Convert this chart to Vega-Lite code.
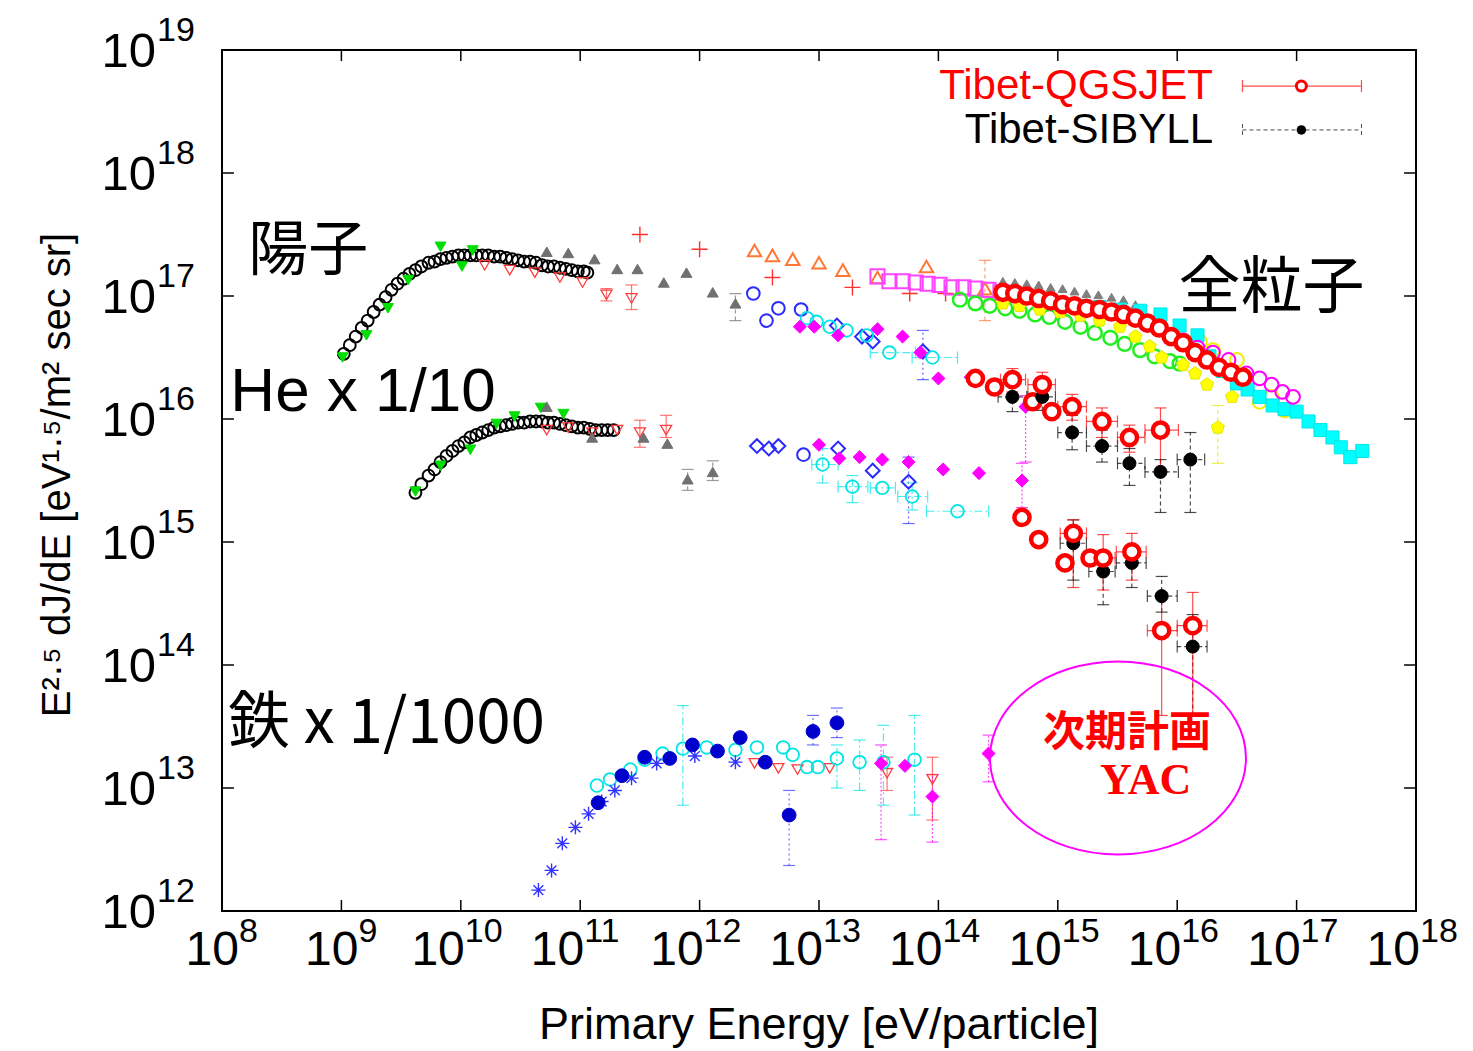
{
  "$schema": "https://vega.github.io/schema/vega-lite/v6.json",
  "width": 1194,
  "height": 861,
  "autosize": {"type": "none"},
  "padding": {"left": 222, "top": 50, "right": 57, "bottom": 140},
  "background": "white",
  "config": {
    "view": {"stroke": "#000000", "strokeWidth": 2},
    "axis": {"disable": true},
    "legend": {"disable": true}
  },
  "data": {"values": [{}]},
  "datasets": {
    "xt": [{"e":8},{"e":9},{"e":10},{"e":11},{"e":12},{"e":13},{"e":14},{"e":15},{"e":16},{"e":17},{"e":18}],
    "yt": [{"f":12},{"f":13},{"f":14},{"f":15},{"f":16},{"f":17},{"f":18},{"f":19}],
    "pts": [
      {"s":"blk_o","e":9.02,"f":16.53},{"s":"blk_o","e":9.07,"f":16.60},{"s":"blk_o","e":9.12,"f":16.67},{"s":"blk_o","e":9.17,"f":16.74},{"s":"blk_o","e":9.22,"f":16.80},{"s":"blk_o","e":9.27,"f":16.87},{"s":"blk_o","e":9.32,"f":16.93},{"s":"blk_o","e":9.37,"f":16.99},{"s":"blk_o","e":9.42,"f":17.05},{"s":"blk_o","e":9.47,"f":17.10},{"s":"blk_o","e":9.52,"f":17.14},{"s":"blk_o","e":9.57,"f":17.18},{"s":"blk_o","e":9.62,"f":17.21},{"s":"blk_o","e":9.67,"f":17.24},{"s":"blk_o","e":9.73,"f":17.27},{"s":"blk_o","e":9.78,"f":17.28},{"s":"blk_o","e":9.83,"f":17.30},{"s":"blk_o","e":9.88,"f":17.31},{"s":"blk_o","e":9.93,"f":17.32},{"s":"blk_o","e":9.98,"f":17.33},{"s":"blk_o","e":10.03,"f":17.33},{"s":"blk_o","e":10.08,"f":17.33},{"s":"blk_o","e":10.13,"f":17.33},{"s":"blk_o","e":10.18,"f":17.33},{"s":"blk_o","e":10.23,"f":17.33},{"s":"blk_o","e":10.28,"f":17.32},{"s":"blk_o","e":10.33,"f":17.32},{"s":"blk_o","e":10.38,"f":17.31},{"s":"blk_o","e":10.43,"f":17.30},{"s":"blk_o","e":10.48,"f":17.29},{"s":"blk_o","e":10.53,"f":17.28},{"s":"blk_o","e":10.58,"f":17.28},{"s":"blk_o","e":10.63,"f":17.27},{"s":"blk_o","e":10.68,"f":17.25},{"s":"blk_o","e":10.73,"f":17.24},{"s":"blk_o","e":10.78,"f":17.24},{"s":"blk_o","e":10.83,"f":17.23},{"s":"blk_o","e":10.88,"f":17.22},{"s":"blk_o","e":10.93,"f":17.21},{"s":"blk_o","e":10.98,"f":17.20},{"s":"blk_o","e":11.03,"f":17.20},{"s":"blk_o","e":11.06,"f":17.19},
      {"s":"blk_o","e":9.62,"f":15.40},{"s":"blk_o","e":9.67,"f":15.47},{"s":"blk_o","e":9.73,"f":15.54},{"s":"blk_o","e":9.78,"f":15.59},{"s":"blk_o","e":9.83,"f":15.65},{"s":"blk_o","e":9.88,"f":15.70},{"s":"blk_o","e":9.93,"f":15.74},{"s":"blk_o","e":9.98,"f":15.78},{"s":"blk_o","e":10.03,"f":15.81},{"s":"blk_o","e":10.08,"f":15.85},{"s":"blk_o","e":10.13,"f":15.87},{"s":"blk_o","e":10.18,"f":15.89},{"s":"blk_o","e":10.23,"f":15.91},{"s":"blk_o","e":10.28,"f":15.93},{"s":"blk_o","e":10.33,"f":15.94},{"s":"blk_o","e":10.38,"f":15.95},{"s":"blk_o","e":10.43,"f":15.96},{"s":"blk_o","e":10.48,"f":15.97},{"s":"blk_o","e":10.53,"f":15.97},{"s":"blk_o","e":10.58,"f":15.98},{"s":"blk_o","e":10.63,"f":15.98},{"s":"blk_o","e":10.68,"f":15.98},{"s":"blk_o","e":10.73,"f":15.97},{"s":"blk_o","e":10.78,"f":15.97},{"s":"blk_o","e":10.83,"f":15.96},{"s":"blk_o","e":10.88,"f":15.95},{"s":"blk_o","e":10.93,"f":15.94},{"s":"blk_o","e":10.98,"f":15.93},{"s":"blk_o","e":11.03,"f":15.93},{"s":"blk_o","e":11.08,"f":15.92},{"s":"blk_o","e":11.13,"f":15.91},{"s":"blk_o","e":11.18,"f":15.91},{"s":"blk_o","e":11.23,"f":15.91},{"s":"blk_o","e":11.28,"f":15.91},
      {"s":"grn_tri","e":9.01,"f":16.50},{"s":"grn_tri","e":9.21,"f":16.68},{"s":"grn_tri","e":9.39,"f":16.90},{"s":"grn_tri","e":9.56,"f":17.13},{"s":"grn_tri","e":9.83,"f":17.40},{"s":"grn_tri","e":10.01,"f":17.24},{"s":"grn_tri","e":10.10,"f":17.37},
      {"s":"grn_tri","e":9.62,"f":15.41},{"s":"grn_tri","e":9.83,"f":15.62},{"s":"grn_tri","e":10.08,"f":15.75},{"s":"grn_tri","e":10.30,"f":15.96},{"s":"grn_tri","e":10.45,"f":16.02},{"s":"grn_tri","e":10.67,"f":16.09},{"s":"grn_tri","e":10.86,"f":16.04},
      {"s":"red_tri","e":10.20,"f":17.25},{"s":"red_tri","e":10.41,"f":17.21},{"s":"red_tri","e":10.62,"f":17.19},{"s":"red_tri","e":10.83,"f":17.15},{"s":"red_tri","e":11.02,"f":17.11},{"s":"red_tri","e":11.22,"f":17.01,"ylo":16.96,"yhi":17.06},{"s":"red_tri","e":11.43,"f":16.98,"ylo":16.89,"yhi":17.09},
      {"s":"red_tri","e":10.72,"f":15.91},{"s":"red_tri","e":10.90,"f":15.93},{"s":"red_tri","e":11.10,"f":15.89},{"s":"red_tri","e":11.31,"f":15.91},{"s":"red_tri","e":11.50,"f":15.89,"ylo":15.77,"yhi":15.99},{"s":"red_tri","e":11.72,"f":15.91,"ylo":15.85,"yhi":16.03},
      {"s":"red_tri","e":12.46,"f":13.20},{"s":"red_tri","e":12.66,"f":13.16},{"s":"red_tri","e":12.82,"f":13.15},{"s":"red_tri","e":13.09,"f":13.16},{"s":"red_tri","e":13.57,"f":13.12,"ylo":12.98,"yhi":13.25},{"s":"red_tri","e":13.95,"f":13.07,"ylo":12.74,"yhi":13.25},
      {"s":"gry_tri","e":10.72,"f":17.36},{"s":"gry_tri","e":10.90,"f":17.35},{"s":"gry_tri","e":11.12,"f":17.30},{"s":"gry_tri","e":11.31,"f":17.22},{"s":"gry_tri","e":11.48,"f":17.22},{"s":"gry_tri","e":11.70,"f":17.11},{"s":"gry_tri","e":11.89,"f":17.19},{"s":"gry_tri","e":12.11,"f":17.03},{"s":"gry_tri","e":12.30,"f":16.94,"ylo":16.80,"yhi":17.02},
      {"s":"gry_tri","e":10.72,"f":16.10},{"s":"gry_tri","e":11.10,"f":15.85},{"s":"gry_tri","e":11.53,"f":15.85},{"s":"gry_tri","e":11.73,"f":15.80},{"s":"gry_tri","e":11.90,"f":15.51,"ylo":15.42,"yhi":15.59},{"s":"gry_tri","e":12.11,"f":15.57,"ylo":15.50,"yhi":15.66},
      {"s":"red_plus","e":11.50,"f":17.50},{"s":"red_plus","e":12.00,"f":17.38},{"s":"red_plus","e":12.61,"f":17.15},{"s":"red_plus","e":13.28,"f":17.07},{"s":"red_plus","e":13.76,"f":17.02},{"s":"red_plus","e":14.06,"f":17.02},
      {"s":"org_tri","e":12.46,"f":17.37},{"s":"org_tri","e":12.61,"f":17.33},{"s":"org_tri","e":12.78,"f":17.30},{"s":"org_tri","e":13.00,"f":17.27},{"s":"org_tri","e":13.20,"f":17.21},{"s":"org_tri","e":13.49,"f":17.15},{"s":"org_tri","e":13.90,"f":17.24},{"s":"org_tri","e":14.39,"f":17.06,"ylo":16.80,"yhi":17.29},
      {"s":"mag_sq","e":13.49,"f":17.16},{"s":"mag_sq","e":13.59,"f":17.12},{"s":"mag_sq","e":13.70,"f":17.12},{"s":"mag_sq","e":13.81,"f":17.11},{"s":"mag_sq","e":13.91,"f":17.10},{"s":"mag_sq","e":14.01,"f":17.09},{"s":"mag_sq","e":14.11,"f":17.07},{"s":"mag_sq","e":14.21,"f":17.07},{"s":"mag_sq","e":14.31,"f":17.06},{"s":"mag_sq","e":14.42,"f":17.05},{"s":"mag_sq","e":14.52,"f":17.03},
      {"s":"gry_sm","e":14.54,"f":17.12},{"s":"gry_sm","e":14.64,"f":17.11},{"s":"gry_sm","e":14.74,"f":17.10},{"s":"gry_sm","e":14.84,"f":17.09},{"s":"gry_sm","e":14.94,"f":17.07},{"s":"gry_sm","e":15.04,"f":17.06},{"s":"gry_sm","e":15.14,"f":17.04},{"s":"gry_sm","e":15.24,"f":17.02},{"s":"gry_sm","e":15.34,"f":17.01},{"s":"gry_sm","e":15.45,"f":16.99},{"s":"gry_sm","e":15.55,"f":16.97},{"s":"gry_sm","e":15.65,"f":16.93},
      {"s":"lime_o","e":14.18,"f":16.97},{"s":"lime_o","e":14.31,"f":16.94},{"s":"lime_o","e":14.43,"f":16.92},{"s":"lime_o","e":14.56,"f":16.90},{"s":"lime_o","e":14.68,"f":16.88},{"s":"lime_o","e":14.81,"f":16.85},{"s":"lime_o","e":14.93,"f":16.83},{"s":"lime_o","e":15.06,"f":16.79},{"s":"lime_o","e":15.19,"f":16.75},{"s":"lime_o","e":15.31,"f":16.70},{"s":"lime_o","e":15.44,"f":16.66},{"s":"lime_o","e":15.56,"f":16.61},{"s":"lime_o","e":15.69,"f":16.56},{"s":"lime_o","e":15.81,"f":16.51},{"s":"lime_o","e":15.94,"f":16.47},{"s":"lime_o","e":16.02,"f":16.45},
      {"s":"yel_p","e":14.54,"f":16.94},{"s":"yel_p","e":14.68,"f":16.92},{"s":"yel_p","e":14.85,"f":16.89},{"s":"yel_p","e":15.02,"f":16.87},{"s":"yel_p","e":15.19,"f":16.84},{"s":"yel_p","e":15.35,"f":16.80},{"s":"yel_p","e":15.52,"f":16.75},{"s":"yel_p","e":15.65,"f":16.67},{"s":"yel_p","e":15.77,"f":16.59},{"s":"yel_p","e":15.87,"f":16.50},{"s":"yel_p","e":16.05,"f":16.44},{"s":"yel_p","e":16.15,"f":16.37},{"s":"yel_p","e":16.25,"f":16.28},{"s":"yel_p","e":16.46,"f":16.18},{"s":"yel_p","e":16.34,"f":15.93,"ylo":15.64,"yhi":16.11},
      {"s":"yel_o","e":16.19,"f":16.63},{"s":"yel_o","e":16.30,"f":16.56},{"s":"yel_o","e":16.50,"f":16.48},{"s":"yel_o","e":16.69,"f":16.14},{"s":"yel_o","e":16.79,"f":16.18},{"s":"yel_o","e":16.90,"f":16.07},
      {"s":"cyan_sq","e":15.02,"f":16.94},{"s":"cyan_sq","e":15.19,"f":16.92},{"s":"cyan_sq","e":15.35,"f":16.91},{"s":"cyan_sq","e":15.52,"f":16.89},{"s":"cyan_sq","e":15.69,"f":16.88},{"s":"cyan_sq","e":15.86,"f":16.85},{"s":"cyan_sq","e":16.02,"f":16.76},{"s":"cyan_sq","e":16.17,"f":16.68},{"s":"cyan_sq","e":16.27,"f":16.51},{"s":"cyan_sq","e":16.38,"f":16.39},{"s":"cyan_sq","e":16.50,"f":16.29},{"s":"cyan_sq","e":16.59,"f":16.24},{"s":"cyan_sq","e":16.69,"f":16.18},{"s":"cyan_sq","e":16.80,"f":16.11},{"s":"cyan_sq","e":16.90,"f":16.08},{"s":"cyan_sq","e":17.00,"f":16.06},{"s":"cyan_sq","e":17.10,"f":15.98},{"s":"cyan_sq","e":17.20,"f":15.91},{"s":"cyan_sq","e":17.30,"f":15.85},{"s":"cyan_sq","e":17.37,"f":15.77},{"s":"cyan_sq","e":17.45,"f":15.69},{"s":"cyan_sq","e":17.55,"f":15.74},
      {"s":"mag_o","e":16.05,"f":16.64},{"s":"mag_o","e":16.17,"f":16.58},{"s":"mag_o","e":16.30,"f":16.54},{"s":"mag_o","e":16.43,"f":16.48},{"s":"mag_o","e":16.58,"f":16.37},{"s":"mag_o","e":16.69,"f":16.33},{"s":"mag_o","e":16.79,"f":16.28},{"s":"mag_o","e":16.88,"f":16.22},{"s":"mag_o","e":16.97,"f":16.18},
      {"s":"blue_o","e":12.45,"f":17.02},{"s":"blue_o","e":12.56,"f":16.80},{"s":"blue_o","e":12.66,"f":16.90},{"s":"blue_o","e":12.85,"f":16.89},{"s":"blue_o","e":12.87,"f":15.71},
      {"s":"blue_d","e":13.15,"f":16.76},{"s":"blue_d","e":13.36,"f":16.67},{"s":"blue_d","e":13.45,"f":16.63},{"s":"blue_d","e":13.87,"f":16.55,"ylo":16.32,"yhi":16.72},
      {"s":"blue_d","e":12.48,"f":15.78},{"s":"blue_d","e":12.58,"f":15.76},{"s":"blue_d","e":12.66,"f":15.78},{"s":"blue_d","e":13.16,"f":15.76},{"s":"blue_d","e":13.45,"f":15.58},{"s":"blue_d","e":13.75,"f":15.49,"ylo":15.15,"yhi":15.69},
      {"s":"cyan_o","e":12.90,"f":16.82},{"s":"cyan_o","e":12.98,"f":16.79},{"s":"cyan_o","e":13.09,"f":16.75},{"s":"cyan_o","e":13.23,"f":16.72},{"s":"cyan_o","e":13.40,"f":16.68},{"s":"cyan_o","e":13.59,"f":16.54,"xlo":13.43,"xhi":13.81},{"s":"cyan_o","e":13.95,"f":16.50,"xlo":13.78,"xhi":14.16},
      {"s":"cyan_o","e":13.03,"f":15.63,"ylo":15.48,"yhi":15.76,"xlo":12.94,"xhi":13.16},{"s":"cyan_o","e":13.28,"f":15.45,"ylo":15.32,"yhi":15.54,"xlo":13.16,"xhi":13.41},{"s":"cyan_o","e":13.53,"f":15.44,"xlo":13.43,"xhi":13.64},{"s":"cyan_o","e":13.78,"f":15.37,"ylo":15.26,"yhi":15.48,"xlo":13.66,"xhi":13.91},{"s":"cyan_o","e":14.16,"f":15.25,"xlo":13.90,"xhi":14.42},
      {"s":"cyan_o","e":11.14,"f":13.02},{"s":"cyan_o","e":11.25,"f":13.07},{"s":"cyan_o","e":11.42,"f":13.15},{"s":"cyan_o","e":11.54,"f":13.23},{"s":"cyan_o","e":11.69,"f":13.28},{"s":"cyan_o","e":11.86,"f":13.32,"ylo":12.86,"yhi":13.67},{"s":"cyan_o","e":12.06,"f":13.33},{"s":"cyan_o","e":12.30,"f":13.31},{"s":"cyan_o","e":12.48,"f":13.33},{"s":"cyan_o","e":12.70,"f":13.33},{"s":"cyan_o","e":12.78,"f":13.27},{"s":"cyan_o","e":12.90,"f":13.17},{"s":"cyan_o","e":12.99,"f":13.17},{"s":"cyan_o","e":13.15,"f":13.24,"ylo":13.00,"yhi":13.35},{"s":"cyan_o","e":13.34,"f":13.21,"ylo":12.98,"yhi":13.39},{"s":"cyan_o","e":13.54,"f":13.21,"ylo":12.86,"yhi":13.51},{"s":"cyan_o","e":13.80,"f":13.23,"ylo":12.78,"yhi":13.59},
      {"s":"mag_d","e":12.84,"f":16.75},{"s":"mag_d","e":12.96,"f":16.75},{"s":"mag_d","e":13.16,"f":16.68},{"s":"mag_d","e":13.49,"f":16.73},{"s":"mag_d","e":13.70,"f":16.67},{"s":"mag_d","e":13.85,"f":16.54},{"s":"mag_d","e":14.00,"f":16.33},{"s":"mag_d","e":14.27,"f":16.34},{"s":"mag_d","e":14.73,"f":16.10,"ylo":15.65,"yhi":16.19},
      {"s":"mag_d","e":13.00,"f":15.79},{"s":"mag_d","e":13.17,"f":15.68},{"s":"mag_d","e":13.34,"f":15.69},{"s":"mag_d","e":13.53,"f":15.67},{"s":"mag_d","e":13.75,"f":15.65},{"s":"mag_d","e":14.04,"f":15.59},{"s":"mag_d","e":14.34,"f":15.56},{"s":"mag_d","e":14.70,"f":15.50,"ylo":15.28,"yhi":15.64},
      {"s":"mag_d","e":13.52,"f":13.20,"ylo":12.58,"yhi":13.35},{"s":"mag_d","e":13.72,"f":13.18},{"s":"mag_d","e":13.95,"f":12.93,"ylo":12.56,"yhi":13.11},{"s":"mag_d","e":14.42,"f":13.28,"ylo":13.05,"yhi":13.43},
      {"s":"blue_star","e":10.65,"f":12.17},{"s":"blue_star","e":10.76,"f":12.33},{"s":"blue_star","e":10.85,"f":12.55},{"s":"blue_star","e":10.96,"f":12.68},{"s":"blue_star","e":11.07,"f":12.79},{"s":"blue_star","e":11.18,"f":12.89},{"s":"blue_star","e":11.29,"f":12.98},{"s":"blue_star","e":11.43,"f":13.08},{"s":"blue_star","e":11.64,"f":13.20},{"s":"blue_star","e":11.96,"f":13.26},{"s":"blue_star","e":12.30,"f":13.21},
      {"s":"blue_f","e":11.15,"f":12.88},{"s":"blue_f","e":11.35,"f":13.10},{"s":"blue_f","e":11.54,"f":13.25},{"s":"blue_f","e":11.75,"f":13.24},{"s":"blue_f","e":11.94,"f":13.35},{"s":"blue_f","e":12.15,"f":13.30},{"s":"blue_f","e":12.34,"f":13.41},{"s":"blue_f","e":12.55,"f":13.21},{"s":"blue_f","e":12.75,"f":12.78,"ylo":12.37,"yhi":12.98},{"s":"blue_f","e":12.95,"f":13.46,"ylo":13.35,"yhi":13.59},{"s":"blue_f","e":13.15,"f":13.53,"ylo":13.41,"yhi":13.65},
      {"s":"qgs","e":14.54,"f":17.03},{"s":"qgs","e":14.64,"f":17.02},{"s":"qgs","e":14.74,"f":17.00},{"s":"qgs","e":14.84,"f":16.98},{"s":"qgs","e":14.94,"f":16.96},{"s":"qgs","e":15.04,"f":16.93},{"s":"qgs","e":15.14,"f":16.92},{"s":"qgs","e":15.24,"f":16.90},{"s":"qgs","e":15.35,"f":16.89},{"s":"qgs","e":15.45,"f":16.87},{"s":"qgs","e":15.55,"f":16.85},{"s":"qgs","e":15.65,"f":16.82},{"s":"qgs","e":15.75,"f":16.78},{"s":"qgs","e":15.85,"f":16.74},{"s":"qgs","e":15.95,"f":16.67},{"s":"qgs","e":16.05,"f":16.62},{"s":"qgs","e":16.15,"f":16.54},{"s":"qgs","e":16.25,"f":16.48},{"s":"qgs","e":16.35,"f":16.42},{"s":"qgs","e":16.45,"f":16.38},{"s":"qgs","e":16.55,"f":16.34},
      {"s":"qgs","e":14.31,"f":16.33},{"s":"qgs","e":14.47,"f":16.26},{"s":"qgs","e":14.79,"f":16.14},{"s":"qgs","e":14.95,"f":16.06},
      {"s":"qgs","e":14.70,"f":15.20},{"s":"qgs","e":14.84,"f":15.02},{"s":"qgs","e":15.06,"f":14.83},{"s":"qgs","e":15.27,"f":14.87},
      {"s":"sib","e":14.62,"f":16.18,"ylo":16.06,"yhi":16.28,"xlo":14.50,"xhi":14.74},{"s":"sib","e":14.87,"f":16.18,"ylo":16.07,"yhi":16.28,"xlo":14.75,"xhi":14.98},{"s":"sib","e":15.12,"f":15.89,"ylo":15.75,"yhi":16.03,"xlo":15.00,"xhi":15.24},{"s":"sib","e":15.37,"f":15.78,"ylo":15.65,"yhi":15.91,"xlo":15.24,"xhi":15.50},{"s":"sib","e":15.60,"f":15.64,"ylo":15.46,"yhi":15.76,"xlo":15.50,"xhi":15.73},{"s":"sib","e":15.86,"f":15.57,"ylo":15.24,"yhi":15.67,"xlo":15.73,"xhi":16.01},{"s":"sib","e":16.11,"f":15.67,"ylo":15.24,"yhi":15.89,"xlo":16.00,"xhi":16.23},
      {"s":"sib","e":15.13,"f":14.99,"ylo":14.69,"yhi":15.18,"xlo":15.02,"xhi":15.24},{"s":"sib","e":15.38,"f":14.76,"ylo":14.49,"yhi":14.85,"xlo":15.26,"xhi":15.48},{"s":"sib","e":15.62,"f":14.83,"ylo":14.63,"yhi":14.88,"xlo":15.49,"xhi":15.74},{"s":"sib","e":15.87,"f":14.56,"ylo":14.43,"yhi":14.72,"xlo":15.75,"xhi":16.00},{"s":"sib","e":16.13,"f":14.15,"ylo":13.59,"yhi":14.41,"xlo":16.00,"xhi":16.25},
      {"s":"qgs","e":14.62,"f":16.32,"ylo":16.22,"yhi":16.41,"xlo":14.52,"xhi":14.73},{"s":"qgs","e":14.87,"f":16.28,"ylo":16.17,"yhi":16.38,"xlo":14.75,"xhi":14.98},{"s":"qgs","e":15.12,"f":16.10,"ylo":15.99,"yhi":16.20,"xlo":15.00,"xhi":15.24},{"s":"qgs","e":15.37,"f":15.98,"ylo":15.85,"yhi":16.09,"xlo":15.24,"xhi":15.50},{"s":"qgs","e":15.60,"f":15.85,"ylo":15.73,"yhi":15.95,"xlo":15.50,"xhi":15.73},{"s":"qgs","e":15.86,"f":15.91,"ylo":15.57,"yhi":16.09,"xlo":15.73,"xhi":16.01},
      {"s":"qgs","e":15.13,"f":15.07,"ylo":14.63,"yhi":15.18,"xlo":15.02,"xhi":15.24},{"s":"qgs","e":15.38,"f":14.87,"ylo":14.61,"yhi":15.06,"xlo":15.26,"xhi":15.48},{"s":"qgs","e":15.62,"f":14.92,"ylo":14.69,"yhi":15.07,"xlo":15.49,"xhi":15.74},{"s":"qgs","e":15.87,"f":14.28,"ylo":13.59,"yhi":14.59,"xlo":15.75,"xhi":16.00},{"s":"qgs","e":16.13,"f":14.32,"ylo":13.59,"yhi":14.59,"xlo":16.00,"xhi":16.25}
    ]
  },
  "layer": [
    {
      "data": {"name": "pts"},
      "transform": [{"filter": "isValid(datum.ylo)"}],
      "mark": {"type": "rule", "strokeWidth": 1.2, "opacity": 0.7},
      "encoding": {
        "x": {"field": "e", "type": "quantitative", "scale": {"domain": [8, 18], "nice": false, "zero": false}, "axis": null},
        "y": {"field": "ylo", "type": "quantitative", "scale": {"domain": [12, 19], "nice": false, "zero": false}, "axis": null},
        "y2": {"field": "yhi"},
        "color": {"field": "s", "type": "nominal", "legend": null, "scale": {"domain": ["blk_o","grn_tri","red_tri","gry_tri","red_plus","org_tri","mag_sq","gry_sm","lime_o","yel_p","yel_o","cyan_sq","mag_o","blue_o","blue_d","cyan_o","mag_d","blue_star","blue_f","qgs","sib"], "range": ["#000000","#00dd00","#ff3b3b","#707070","#ff3030","#ff7733","#ff44ff","#808080","#22ee22","#e6e600","#e6e600","#00e5e5","#ff00ff","#2a2aff","#2a2aff","#00e5e5","#ff00ff","#3333ff","#3333ff","#ff0000","#000000"]}},
        "strokeDash": {"field": "s", "type": "nominal", "legend": null, "scale": {"type": "ordinal", "domain": ["blk_o","grn_tri","red_tri","gry_tri","red_plus","org_tri","mag_sq","gry_sm","lime_o","yel_p","yel_o","cyan_sq","mag_o","blue_o","blue_d","cyan_o","mag_d","blue_star","blue_f","qgs","sib"], "range": [[1,0],[1,0],[1,0],[4,3],[1,0],[4,3],[1,0],[1,0],[1,0],[4,3],[4,3],[1,0],[1,0],[2,3],[2,3],[8,3,2,3],[2,2],[1,0],[2,3],[1,0],[4,3]]}}
      }
    },
    {
      "data": {"name": "pts"},
      "transform": [{"filter": "isValid(datum.xlo)"}],
      "mark": {"type": "rule", "strokeWidth": 1.2, "opacity": 0.7},
      "encoding": {
        "x": {"field": "xlo", "type": "quantitative", "axis": null},
        "x2": {"field": "xhi"},
        "y": {"field": "f", "type": "quantitative", "axis": null},
        "color": {"field": "s", "type": "nominal", "legend": null},
        "strokeDash": {"field": "s", "type": "nominal", "legend": null}
      }
    },
    {
      "data": {"name": "pts"},
      "transform": [{"filter": "isValid(datum.ylo)"}, {"fold": ["ylo", "yhi"], "as": ["k", "v"]}],
      "mark": {"type": "tick", "orient": "horizontal", "size": 12, "thickness": 1.2, "opacity": 0.7},
      "encoding": {
        "x": {"field": "e", "type": "quantitative", "axis": null},
        "y": {"field": "v", "type": "quantitative", "axis": null},
        "color": {"field": "s", "type": "nominal", "legend": null}
      }
    },
    {
      "data": {"name": "pts"},
      "transform": [{"filter": "isValid(datum.xlo)"}, {"fold": ["xlo", "xhi"], "as": ["k", "v"]}],
      "mark": {"type": "tick", "orient": "vertical", "size": 12, "thickness": 1.2, "opacity": 0.7},
      "encoding": {
        "x": {"field": "v", "type": "quantitative", "axis": null},
        "y": {"field": "f", "type": "quantitative", "axis": null},
        "color": {"field": "s", "type": "nominal", "legend": null}
      }
    },
    {
      "data": {"name": "pts"},
      "mark": {"type": "point", "opacity": 1},
      "encoding": {
        "x": {"field": "e", "type": "quantitative", "axis": null},
        "y": {"field": "f", "type": "quantitative", "axis": null},
        "shape": {"field": "s", "type": "nominal", "legend": null, "scale": {"domain": ["blk_o","grn_tri","red_tri","gry_tri","red_plus","org_tri","mag_sq","gry_sm","lime_o","yel_p","yel_o","cyan_sq","mag_o","blue_o","blue_d","cyan_o","mag_d","blue_star","blue_f","qgs","sib"], "range": ["circle","triangle-down","triangle-down","triangle-up","M-1,0L1,0M0,-1L0,1","triangle-up","square","triangle-up","circle","M0,-1L0.951,-0.309L0.588,0.809L-0.588,0.809L-0.951,-0.309Z","circle","square","circle","circle","diamond","circle","diamond","M-1,0L1,0M0,-1L0,1M-0.7,-0.7L0.7,0.7M-0.7,0.7L0.7,-0.7","circle","circle","circle"]}},
        "stroke": {"field": "s", "type": "nominal", "legend": null, "scale": {"domain": ["blk_o","grn_tri","red_tri","gry_tri","red_plus","org_tri","mag_sq","gry_sm","lime_o","yel_p","yel_o","cyan_sq","mag_o","blue_o","blue_d","cyan_o","mag_d","blue_star","blue_f","qgs","sib"], "range": ["#000000","#00dd00","#ff3b3b","#707070","#ff3030","#ff7733","#ff44ff","#808080","#22ee22","#e6e600","#eeee00","#00e5e5","#ff00ff","#2a2aff","#2a2aff","#00e5e5","#ff00ff","#3333ff","#0000cc","#ff0000","#000000"]}},
        "fill": {"field": "s", "type": "nominal", "legend": null, "scale": {"domain": ["blk_o","grn_tri","red_tri","gry_tri","red_plus","org_tri","mag_sq","gry_sm","lime_o","yel_p","yel_o","cyan_sq","mag_o","blue_o","blue_d","cyan_o","mag_d","blue_star","blue_f","qgs","sib"], "range": ["transparent","#00dd00","transparent","#707070","transparent","transparent","transparent","#808080","transparent","#ffff00","transparent","#00ffff","transparent","transparent","transparent","transparent","#ff00ff","transparent","#0000cc","#ffffff","#000000"]}},
        "size": {"field": "s", "type": "nominal", "legend": null, "scale": {"type": "ordinal", "domain": ["blk_o","grn_tri","red_tri","gry_tri","red_plus","org_tri","mag_sq","gry_sm","lime_o","yel_p","yel_o","cyan_sq","mag_o","blue_o","blue_d","cyan_o","mag_d","blue_star","blue_f","qgs","sib"], "range": [140,120,120,120,256,180,200,80,190,190,190,170,190,160,190,160,170,196,190,230,170]}},
        "strokeWidth": {"field": "s", "type": "nominal", "legend": null, "scale": {"type": "ordinal", "domain": ["blk_o","grn_tri","red_tri","gry_tri","red_plus","org_tri","mag_sq","gry_sm","lime_o","yel_p","yel_o","cyan_sq","mag_o","blue_o","blue_d","cyan_o","mag_d","blue_star","blue_f","qgs","sib"], "range": [2,1,1.3,1,1.4,2,2,1,2.5,1,2,1,2,2,2,1.8,1,1.4,1,4.5,1]}}
      }
    },
    {
      "data": {"name": "xt"},
      "mark": {"type": "rule", "color": "#000000", "strokeWidth": 1.5},
      "encoding": {"x": {"field": "e", "type": "quantitative"}, "y": {"datum": 12, "type": "quantitative"}, "y2": {"datum": 12.09}}
    },
    {
      "data": {"name": "xt"},
      "mark": {"type": "rule", "color": "#000000", "strokeWidth": 1.5},
      "encoding": {"x": {"field": "e", "type": "quantitative"}, "y": {"datum": 19, "type": "quantitative"}, "y2": {"datum": 18.91}}
    },
    {
      "data": {"name": "yt"},
      "mark": {"type": "rule", "color": "#000000", "strokeWidth": 1.5},
      "encoding": {"y": {"field": "f", "type": "quantitative"}, "x": {"datum": 8, "type": "quantitative"}, "x2": {"datum": 8.1}}
    },
    {
      "data": {"name": "yt"},
      "mark": {"type": "rule", "color": "#000000", "strokeWidth": 1.5},
      "encoding": {"y": {"field": "f", "type": "quantitative"}, "x": {"datum": 18, "type": "quantitative"}, "x2": {"datum": 17.9}}
    },
    {
      "data": {"name": "xt"},
      "transform": [{"filter": "datum.e < 10"}],
      "mark": {"type": "text", "text": "10", "align": "right", "baseline": "middle", "dx": 17, "dy": 40, "fontSize": 48, "font": "Liberation Sans", "color": "#000000"},
      "encoding": {"x": {"field": "e", "type": "quantitative"}, "y": {"datum": 12, "type": "quantitative"}}
    },
    {
      "data": {"name": "xt"},
      "transform": [{"filter": "datum.e < 10"}],
      "mark": {"type": "text", "align": "left", "baseline": "middle", "dx": 17, "dy": 21, "fontSize": 34, "font": "Liberation Sans", "color": "#000000"},
      "encoding": {"x": {"field": "e", "type": "quantitative"}, "y": {"datum": 12, "type": "quantitative"}, "text": {"field": "e", "type": "nominal"}}
    },
    {
      "data": {"name": "xt"},
      "transform": [{"filter": "datum.e >= 10"}],
      "mark": {"type": "text", "text": "10", "align": "right", "baseline": "middle", "dx": 4, "dy": 40, "fontSize": 48, "font": "Liberation Sans", "color": "#000000"},
      "encoding": {"x": {"field": "e", "type": "quantitative"}, "y": {"datum": 12, "type": "quantitative"}}
    },
    {
      "data": {"name": "xt"},
      "transform": [{"filter": "datum.e >= 10"}],
      "mark": {"type": "text", "align": "left", "baseline": "middle", "dx": 4, "dy": 21, "fontSize": 34, "font": "Liberation Sans", "color": "#000000"},
      "encoding": {"x": {"field": "e", "type": "quantitative"}, "y": {"datum": 12, "type": "quantitative"}, "text": {"field": "e", "type": "nominal"}}
    },
    {
      "data": {"name": "yt"},
      "mark": {"type": "text", "text": "10", "align": "right", "baseline": "middle", "dx": -66, "dy": 2, "fontSize": 49, "font": "Liberation Sans", "color": "#000000"},
      "encoding": {"y": {"field": "f", "type": "quantitative"}, "x": {"datum": 8, "type": "quantitative"}}
    },
    {
      "data": {"name": "yt"},
      "mark": {"type": "text", "align": "left", "baseline": "middle", "dx": -65, "dy": -19, "fontSize": 34, "font": "Liberation Sans", "color": "#000000"},
      "encoding": {"y": {"field": "f", "type": "quantitative"}, "x": {"datum": 8, "type": "quantitative"}, "text": {"field": "f", "type": "nominal"}}
    },
    {
      "mark": {"type": "text", "text": "E²·⁵ dJ/dE  [eV¹·⁵/m² sec sr]", "angle": 270, "align": "center", "baseline": "middle", "fontSize": 40, "font": "Liberation Sans", "color": "#000000"},
      "encoding": {"x": {"datum": 6.63, "type": "quantitative"}, "y": {"datum": 15.545, "type": "quantitative"}}
    },
    {
      "mark": {"type": "text", "text": "Primary Energy [eV/particle]", "align": "center", "baseline": "middle", "fontSize": 45, "font": "Liberation Sans", "color": "#000000"},
      "encoding": {"x": {"datum": 13.0, "type": "quantitative"}, "y": {"datum": 11.07, "type": "quantitative"}}
    },
    {
      "mark": {"type": "text", "text": "陽子", "align": "left", "baseline": "middle", "fontSize": 60, "font": "Noto Sans CJK JP", "color": "#000000"},
      "encoding": {"x": {"datum": 8.22, "type": "quantitative"}, "y": {"datum": 17.36, "type": "quantitative"}}
    },
    {
      "mark": {"type": "text", "text": "He x 1/10", "align": "left", "baseline": "middle", "fontSize": 62, "font": "Liberation Sans", "color": "#000000"},
      "encoding": {"x": {"datum": 8.07, "type": "quantitative"}, "y": {"datum": 16.22, "type": "quantitative"}}
    },
    {
      "mark": {"type": "text", "text": "鉄 x 1/1000", "align": "left", "baseline": "middle", "fontSize": 62, "font": "Noto Sans CJK JP", "color": "#000000"},
      "encoding": {"x": {"datum": 8.05, "type": "quantitative"}, "y": {"datum": 13.52, "type": "quantitative"}}
    },
    {
      "mark": {"type": "text", "text": "全粒子", "align": "left", "baseline": "middle", "fontSize": 62, "font": "Noto Sans CJK JP", "color": "#000000"},
      "encoding": {"x": {"datum": 16.01, "type": "quantitative"}, "y": {"datum": 17.057, "type": "quantitative"}}
    },
    {
      "mark": {"type": "text", "text": "次期計画", "align": "left", "baseline": "middle", "fontSize": 42, "fontWeight": "bold", "font": "Noto Sans CJK JP", "color": "#ff0000"},
      "encoding": {"x": {"datum": 14.876, "type": "quantitative"}, "y": {"datum": 13.447, "type": "quantitative"}}
    },
    {
      "mark": {"type": "text", "text": "YAC", "align": "left", "baseline": "middle", "fontSize": 44, "fontWeight": "bold", "font": "Liberation Serif", "color": "#ff0000"},
      "encoding": {"x": {"datum": 15.353, "type": "quantitative"}, "y": {"datum": 13.057, "type": "quantitative"}}
    },
    {
      "mark": {"type": "point", "shape": "M-1,0A1,0.754,0,1,1,1,0A1,0.754,0,1,1,-1,0Z", "size": 65536, "filled": false, "stroke": "#ff00ff", "strokeWidth": 2, "opacity": 1},
      "encoding": {"x": {"datum": 15.504, "type": "quantitative"}, "y": {"datum": 13.244, "type": "quantitative"}}
    },
    {
      "mark": {"type": "text", "text": "Tibet-QGSJET", "align": "right", "baseline": "middle", "fontSize": 42, "font": "Liberation Sans", "color": "#ff0000"},
      "encoding": {"x": {"datum": 16.30, "type": "quantitative"}, "y": {"datum": 18.707, "type": "quantitative"}}
    },
    {
      "mark": {"type": "text", "text": "Tibet-SIBYLL", "align": "right", "baseline": "middle", "fontSize": 42, "font": "Liberation Sans", "color": "#000000"},
      "encoding": {"x": {"datum": 16.30, "type": "quantitative"}, "y": {"datum": 18.35, "type": "quantitative"}}
    },
    {
      "mark": {"type": "point", "shape": "M-1,-0.1L-1,0.1M1,-0.1L1,0.1M-1,0L1,0", "size": 14161, "filled": false, "stroke": "#ff0000", "strokeWidth": 1.2, "opacity": 0.7},
      "encoding": {"x": {"datum": 17.045, "type": "quantitative"}, "y": {"datum": 18.707, "type": "quantitative"}}
    },
    {
      "mark": {"type": "point", "shape": "M-1,-0.1L-1,0.1M1,-0.1L1,0.1M-1,0L1,0", "size": 14161, "filled": false, "stroke": "#000000", "strokeWidth": 1, "strokeDash": [4, 3], "opacity": 0.7},
      "encoding": {"x": {"datum": 17.045, "type": "quantitative"}, "y": {"datum": 18.35, "type": "quantitative"}}
    },
    {
      "mark": {"type": "point", "shape": "circle", "size": 100, "fill": "#ffffff", "stroke": "#ff0000", "strokeWidth": 3, "opacity": 1},
      "encoding": {"x": {"datum": 17.04, "type": "quantitative"}, "y": {"datum": 18.707, "type": "quantitative"}}
    },
    {
      "mark": {"type": "point", "shape": "circle", "size": 90, "filled": true, "color": "#000000", "opacity": 1},
      "encoding": {"x": {"datum": 17.04, "type": "quantitative"}, "y": {"datum": 18.35, "type": "quantitative"}}
    }
  ]
}
